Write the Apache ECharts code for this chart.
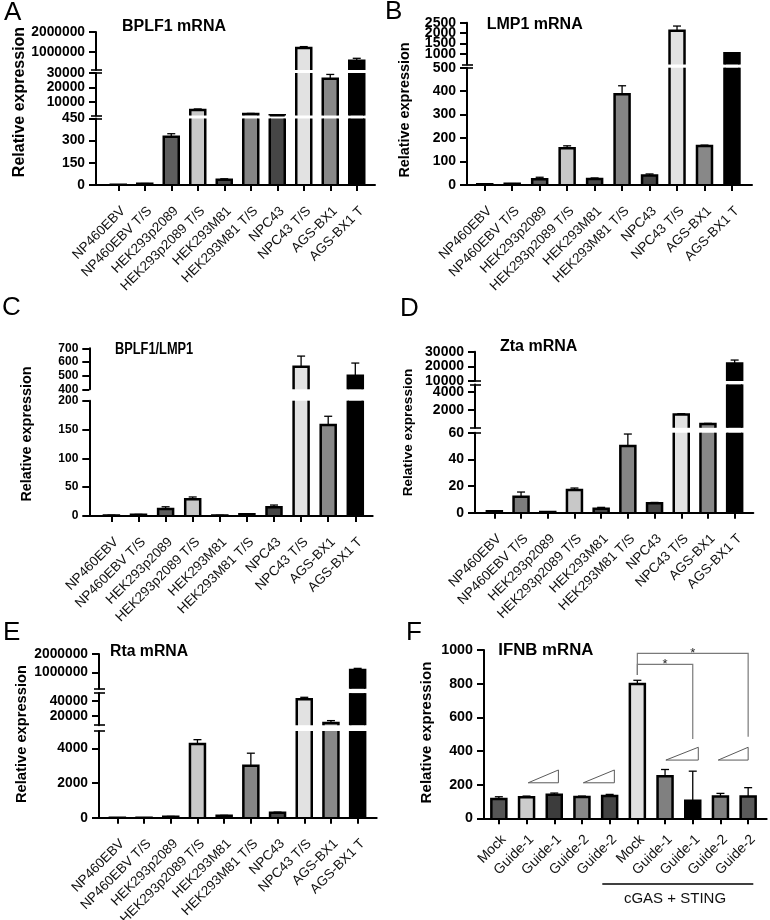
<!DOCTYPE html>
<html><head><meta charset="utf-8">
<script src="https://cdn.jsdelivr.net/npm/echarts@6/dist/echarts.min.js"></script>
<style>html,body{margin:0;padding:0;background:#fff}#c{width:770px;height:920px}</style>
</head><body><div id="c"></div>
<script>
// ---------------- DATA ----------------
const cellLines = ['NP460EBV', 'NP460EBV T/S', 'HEK293p2089', 'HEK293p2089 T/S', 'HEK293M81', 'HEK293M81 T/S', 'NPC43', 'NPC43 T/S', 'AGS-BX1', 'AGS-BX1 T'];

const bplf1Values = [1, 8, 327, 4300, 35, 1500, 600, 1200000, 26000, 565000];
const bplf1Errors = [0.5, 2, 20, 700, 7, 400, 100, 70000, 3000, 120000];
const bplf1Ticks = [[0, 150, 300, 450], [10000, 20000, 30000], [1000000, 2000000]];

const lmp1Values = [3, 5, 25, 157, 26, 387, 40, 2120, 166, 1040];
const lmp1Errors = [1, 1, 8, 10, 4, 36, 7, 220, 4, 10];
const lmp1Ticks = [[0, 100, 200, 300, 400, 500], [1000, 1500, 2000, 2500]];

const ratioValues = [1, 2, 12, 29, 1, 3, 15, 565, 158, 500];
const ratioErrors = [0.5, 0.8, 4, 4, 0.3, 1, 4, 78, 15, 92];
const ratioTicks = [[0, 50, 100, 150, 200], [400, 500, 600, 700]];

const ztaValues = [1, 12, 0.5, 17, 3, 50, 7, 1500, 480, 22000];
const ztaErrors = [0.5, 3.5, 0.3, 1.5, 1, 9, 0.7, 100, 60, 2300];
const ztaTicks = [[0, 20, 40, 60], [2000, 4000], [10000, 20000, 30000]];

const rtaValues = [2, 3, 60, 4250, 115, 3000, 290, 42000, 11000, 1120000];
const rtaErrors = [1, 1, 15, 250, 20, 720, 30, 2500, 3000, 95000];
const rtaTicks = [[0, 2000, 4000], [20000, 40000], [1000000, 2000000]];

const ifnbCategories = ['Mock', 'Guide-1', 'Guide-1', 'Guide-2', 'Guide-2', 'Mock', 'Guide-1', 'Guide-1', 'Guide-2', 'Guide-2'];
const ifnbValues = [115, 125, 140, 127, 132, 798, 250, 105, 130, 130];
const ifnbErrors = [13, 7, 10, 5, 10, 22, 40, 175, 18, 52];
const ifnbTicks = [[0, 200, 400, 600, 800, 1000]];

// ---------------- STYLE / LAYOUT ----------------
const cellColors = ['#555555', '#7c7c7c', '#5e5e5e', '#c8c8c8', '#4a4a4a', '#858585', '#464646', '#e2e2e2', '#888888', '#000000'];
const ifnbColors = ['#555555', '#cccccc', '#3c3c3c', '#888888', '#444444', '#e0e0e0', '#808080', '#000000', '#808080', '#5a5a5a'];
const FF = '"Liberation Sans", Arial, Helvetica, sans-serif';
const BAR_W = 15, BAR_BORDER = 2.5, ERR_W = 1.3, CAP_W = 8;

const panels = [
  { letter: 'A', letterPos: [4, 12.5], title: 'BPLF1 mRNA', titlePos: [122, 26.7], titleSize: 16,
    name: [19.5, 102, 16], axisX: 96, plotL: 105, plotR: 370, frameR: 375, base: 185, tickSize: 13.8, labelSize: 13.5, labelMargin: 19,
    cats: cellLines, values: bplf1Values, errors: bplf1Errors, colors: cellColors,
    segs: [{ min: 0, max: 450, bottom: 185, top: 118.5, ticks: bplf1Ticks[0] },
           { min: 450, max: 30000, bottom: 115.5, top: 73, ticks: bplf1Ticks[1] },
           { min: 100000, max: 2000000, bottom: 70, top: 32, ticks: bplf1Ticks[2] }] },
  { letter: 'B', letterPos: [385, 11.7], title: 'LMP1 mRNA', titlePos: [486.7, 24.7], titleSize: 16,
    name: [405.5, 110, 14.4], axisX: 467, plotL: 471, plotR: 745.7, frameR: 752, base: 185, tickSize: 14, labelSize: 13.5, labelMargin: 19,
    cats: cellLines, values: lmp1Values, errors: lmp1Errors, colors: cellColors,
    segs: [{ min: 0, max: 500, bottom: 185, top: 67.7, ticks: lmp1Ticks[0] },
           { min: 500, max: 2500, bottom: 64.5, top: 22.7, ticks: lmp1Ticks[1] }] },
  { letter: 'C', letterPos: [2, 307.5], title: 'BPLF1/LMP1', titlePos: [115, 350], titleSize: 16, titleScaleX: 0.8,
    name: [26.7, 434, 14.4], axisX: 89.3, plotL: 97.85, plotR: 368.85, frameR: 372.7, base: 516, tickSize: 12, labelSize: 13.5, labelMargin: 19,
    cats: cellLines, values: ratioValues, errors: ratioErrors, colors: cellColors, noBreakMarks: true,
    segs: [{ min: 0, max: 200, bottom: 516, top: 400.7, ticks: ratioTicks[0] },
           { min: 400, max: 700, bottom: 389.3, top: 348.3, ticks: ratioTicks[1] }] },
  { letter: 'D', letterPos: [400, 309], title: 'Zta mRNA', titlePos: [500, 346.7], titleSize: 16,
    name: [408.5, 432.5, 13.6], axisX: 475, plotL: 481, plotR: 748, frameR: 753.3, base: 512.7, tickSize: 14, labelSize: 13.5, labelMargin: 19,
    cats: cellLines, values: ztaValues, errors: ztaErrors, colors: cellColors,
    segs: [{ min: 0, max: 60, bottom: 512.7, top: 432.7, ticks: ztaTicks[0] },
           { min: 60, max: 4800, bottom: 427.8, top: 384.4, ticks: ztaTicks[1] },
           { min: 10000, max: 30000, bottom: 381, top: 351.7, ticks: ztaTicks[2] }] },
  { letter: 'E', letterPos: [3, 633.3], title: 'Rta mRNA', titlePos: [110, 651.7], titleSize: 15.8,
    name: [21.7, 734, 14.7], axisX: 99, plotL: 104, plotR: 371, frameR: 376.7, base: 817.7, tickSize: 13.8, labelSize: 13.5, labelMargin: 19,
    cats: cellLines, values: rtaValues, errors: rtaErrors, colors: cellColors,
    segs: [{ min: 0, max: 5000, bottom: 817.7, top: 731, ticks: rtaTicks[0] },
           { min: 8000, max: 50000, bottom: 725.2, top: 693.1, ticks: rtaTicks[1] },
           { min: 100000, max: 2000000, bottom: 688.8, top: 654, ticks: rtaTicks[2] }] },
  { letter: 'F', letterPos: [406, 632.5], title: 'IFNB mRNA', titlePos: [498.3, 650], titleSize: 16.8,
    name: [426.5, 732.5, 15.1], axisX: 484, plotL: 485, plotR: 762, frameR: 766.7, base: 818.3, tickSize: 14.3, labelSize: 14, labelMargin: 14,
    cats: ifnbCategories, values: ifnbValues, errors: ifnbErrors, colors: ifnbColors,
    segs: [{ min: 0, max: 1000, bottom: 818.3, top: 650, ticks: ifnbTicks[0] }] }
];

// annotation geometry for panel F (in category-index / value space)
const ifnbWedges = [[1.06, 2.15, 211, 287], [3.05, 4.17, 211, 287], [6.03, 7.2, 346, 422], [7.92, 9.03, 346, 422]];
const ifnbBrackets = [{ from: 5, to: 9, y: 980, yLeft: 851, yRight: 485 }, { from: 5, to: 7, y: 915, yLeft: 851, yRight: 471 }];

// ---------------- BUILD ----------------
function renderBar(params, api, seg) {
  const i = api.value(0), v = api.value(1), e = api.value(2);
  if (!(v > seg.min)) return;
  const cs = params.coordSys;
  const gTop = cs.y, gBot = cs.y + cs.height;
  const pt = api.coord([i, v]);
  const cx = pt[0], yTop = pt[1];
  const yBase = api.coord([i, seg.min])[1];
  const ya = Math.max(yTop, gTop), yb = Math.min(yBase, gBot);
  const left = cx - BAR_W / 2, right = cx + BAR_W / 2;
  const stroke = { stroke: '#000', lineWidth: BAR_BORDER, fill: 'none' };
  const kids = [{ type: 'rect', shape: { x: left, y: ya, width: BAR_W, height: Math.max(0, yb - ya) }, style: { fill: api.visual('color') } }];
  if (yTop >= gTop - 0.01) {
    if (e > 0) {
      const yErr = api.coord([i, v + e])[1];
      kids.push({ type: 'line', shape: { x1: cx, y1: yTop, x2: cx, y2: Math.max(yErr, gTop) }, style: { stroke: '#000', lineWidth: ERR_W } });
      if (yErr >= gTop) kids.push({ type: 'line', shape: { x1: cx - CAP_W / 2, y1: yErr, x2: cx + CAP_W / 2, y2: yErr }, style: { stroke: '#000', lineWidth: ERR_W } });
    }
    kids.push({ type: 'polyline', shape: { points: [[left, yb], [left, yTop], [right, yTop], [right, yb]] }, style: stroke });
  } else {
    kids.push({ type: 'line', shape: { x1: left, y1: ya, x2: left, y2: yb }, style: stroke });
    kids.push({ type: 'line', shape: { x1: right, y1: ya, x2: right, y2: yb }, style: stroke });
  }
  return { type: 'group', children: kids };
}

function xAt(api, idx, yv) {
  const a = Math.floor(idx), b = Math.min(a + 1, 9), t = idx - a;
  const pa = api.coord([a, yv]), pb = api.coord([b, yv]);
  return [pa[0] + (pb[0] - pa[0]) * t, pa[1]];
}

const grids = [], xAxes = [], yAxes = [], series = [], graphics = [];
let fGrid = null;

panels.forEach((p) => {
  p.segs.forEach((s, si) => {
    const gi = grids.length;
    const isBottom = si === 0;
    grids.push({ left: p.plotL, width: p.plotR - p.plotL, top: s.top, height: s.bottom - s.top, containLabel: false, outerBoundsMode: 'none' });
    xAxes.push({ gridIndex: gi, type: 'category', data: p.cats, boundaryGap: true,
      axisLine: { show: false },
      axisTick: { show: isBottom, alignWithLabel: true, interval: 0, length: 6, lineStyle: { color: '#000', width: 2 } },
      axisLabel: { show: isBottom, rotate: 45, interval: 0, fontSize: p.labelSize, fontFamily: FF, color: '#111', margin: p.labelMargin,
        align: 'right', verticalAlign: 'top', hideOverlap: false },
      splitLine: { show: false } });
    const labelStyle = { hideOverlap: false, showMinLabel: true, showMaxLabel: true, lineHeight: 6,
      formatter: (v) => String(v), fontSize: p.tickSize, fontWeight: 'bold', fontFamily: FF, color: '#000', margin: 11 };
    const even = s.ticks.filter((_, k) => k % 2 === 0), odd = s.ticks.filter((_, k) => k % 2 === 1);
    const yi = yAxes.length;
    yAxes.push({ gridIndex: gi, type: 'value', min: s.min, max: s.max, position: 'left', offset: p.plotL - p.axisX,
      axisLine: { show: true, lineStyle: { color: '#000', width: 2 } },
      axisTick: { show: true, customValues: s.ticks, length: 7, lineStyle: { color: '#000', width: 2 } },
      axisLabel: Object.assign({ show: true, customValues: even }, labelStyle),
      splitLine: { show: false } });
    if (odd.length) {
      yAxes.push({ gridIndex: gi, type: 'value', min: s.min, max: s.max, position: 'left', offset: p.plotL - p.axisX,
        axisLine: { show: false }, axisTick: { show: false },
        axisLabel: Object.assign({ show: true, customValues: odd }, labelStyle),
        splitLine: { show: false } });
    }
    const bv = [];
    if (!p.noBreakMarks) {
      if (si > 0) bv.push(s.min);
      if (si < p.segs.length - 1) bv.push(s.max);
    }
    if (bv.length) {
      yAxes.push({ gridIndex: gi, type: 'value', min: s.min, max: s.max, position: 'left', offset: p.plotL - p.axisX - 6,
        axisLine: { show: false },
        axisTick: { show: true, customValues: bv, length: 11, lineStyle: { color: '#000', width: 1.6 } },
        axisLabel: { show: false }, splitLine: { show: false } });
    }
    series.push({ type: 'custom', xAxisIndex: gi, yAxisIndex: yi, z: 3,
      renderItem: (params, api) => renderBar(params, api, s),
      data: p.values.map((v, i) => ({ value: [i, v, p.errors[i]], itemStyle: { color: p.colors[i] } })) });
    if (p.letter === 'F') fGrid = { gi, yi };
  });
  // x-axis baseline frame
  const fg = grids.length;
  grids.push({ left: p.axisX - 1, width: p.frameR - p.axisX + 1, top: p.base - 4, height: 4, containLabel: false, outerBoundsMode: 'none' });
  xAxes.push({ gridIndex: fg, type: 'value', min: 0, max: 1, z: 5,
    axisLine: { show: true, lineStyle: { color: '#000', width: 2 } }, axisTick: { show: false }, axisLabel: { show: false }, splitLine: { show: false } });
  yAxes.push({ gridIndex: fg, type: 'value', show: false });

  graphics.push({ type: 'text', x: p.letterPos[0], y: p.letterPos[1],
    style: { text: p.letter, font: '26px ' + FF, fill: '#000', align: 'left', verticalAlign: 'middle', textAlign: 'left', textVerticalAlign: 'middle' } });
  graphics.push({ type: 'text', x: p.titlePos[0], y: p.titlePos[1], scaleX: p.titleScaleX || 1,
    style: { text: p.title, font: 'bold ' + p.titleSize + 'px ' + FF, fill: '#000', align: 'left', verticalAlign: 'middle', textAlign: 'left', textVerticalAlign: 'middle' } });
  graphics.push({ type: 'text', x: p.name[0], y: p.name[1], rotation: Math.PI / 2,
    style: { text: 'Relative expression', font: 'bold ' + p.name[2] + 'px ' + FF, fill: '#000', align: 'center', verticalAlign: 'middle', textAlign: 'center', textVerticalAlign: 'middle' } });
});

// panel F annotations: dose wedges + significance brackets
series.push({ type: 'custom', xAxisIndex: fGrid.gi, yAxisIndex: fGrid.yi, z: 4, silent: true,
  data: [[0, 0]],
  renderItem: (params, api) => {
    const kids = [];
    ifnbWedges.forEach((w) => {
      kids.push({ type: 'polygon', shape: { points: [xAt(api, w[0], w[2]), xAt(api, w[1], w[2]), xAt(api, w[1], w[3])] },
        style: { fill: '#fff', stroke: '#5a5a5a', lineWidth: 1 } });
    });
    ifnbBrackets.forEach((b) => {
      kids.push({ type: 'polyline', shape: { points: [xAt(api, b.from, b.yLeft), xAt(api, b.from, b.y), xAt(api, b.to, b.y), xAt(api, b.to, b.yRight)] },
        style: { stroke: '#7a7a7a', lineWidth: 1.2, fill: 'none' } });
      const s = xAt(api, (b.from + b.to) / 2, b.y);
      kids.push({ type: 'text', x: s[0], y: s[1],
        style: { text: '*', font: '13px ' + FF, fill: '#222', align: 'center', verticalAlign: 'middle', textAlign: 'center', textVerticalAlign: 'middle' } });
    });
    return { type: 'group', children: kids };
  } });

graphics.push({ type: 'line', shape: { x1: 602.3, y1: 884, x2: 753.3, y2: 884 }, style: { stroke: '#000', lineWidth: 1.4 } });
graphics.push({ type: 'text', x: 675, y: 899,
  style: { text: 'cGAS + STING', font: '15px ' + FF, fill: '#111', align: 'center', verticalAlign: 'middle', textAlign: 'center', textVerticalAlign: 'middle' } });

const chart = echarts.init(document.getElementById('c'), null, { renderer: 'canvas' });
chart.setOption({ animation: false, backgroundColor: '#fff', grid: grids, xAxis: xAxes, yAxis: yAxes, series: series, graphic: { elements: graphics } });
</script>
</body></html>
